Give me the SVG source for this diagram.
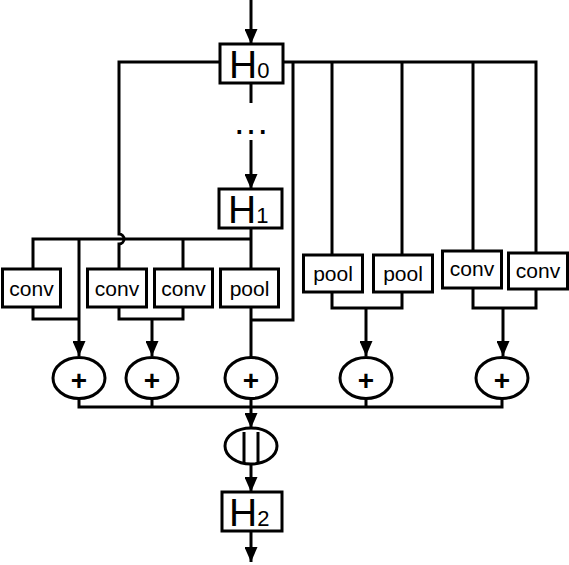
<svg xmlns="http://www.w3.org/2000/svg" width="569" height="565" viewBox="0 0 569 565">
  <style>
    .box { fill: #fff; stroke: #000; stroke-width: 3; }
    .op { fill: #fff; stroke: #000; stroke-width: 3; }
    .wire { fill: none; stroke: #000; stroke-width: 3; stroke-linejoin: miter; }
    .arrow { marker-end: url(#head); }
    .lbl { font-family: "Liberation Sans", Arial, sans-serif; font-size: 21px; text-anchor: middle; fill: #000; }
    .hname { font-family: "Liberation Sans", Arial, sans-serif; font-size: 39px; fill: #000; }
    .plus { font-family: "Liberation Sans", Arial, sans-serif; font-size: 28px; font-weight: bold; text-anchor: middle; fill: #000; }
  </style>
  <defs>
    <marker id="head" markerUnits="userSpaceOnUse" markerWidth="16" markerHeight="13" refX="15" refY="6.5" orient="auto">
      <path d="M0,0 L15,6.5 L0,13 z" fill="#000"/>
    </marker>
  </defs>
  <rect width="569" height="565" fill="#fff"/>

  <g id="connectors">
    <!-- input into H0 -->
    <line class="wire arrow" x1="251" y1="0" x2="251" y2="44"/>
    <line class="wire" x1="251" y1="83" x2="251" y2="103"/>
    <line class="wire arrow" x1="251" y1="140" x2="251" y2="189"/>
    <!-- H0 skip to the left branch, hopping over the H1 bus -->
    <path class="wire" d="M220,62 H119 V234 A5,5 0 0 1 119,244 V269"/>
    <!-- H0 fan-out to the right -->
    <path class="wire" d="M283,62 H536 V253"/>
    <path class="wire" d="M293,62 V320 H251"/>
    <line class="wire" x1="332" y1="62" x2="332" y2="255"/>
    <line class="wire" x1="402" y1="62" x2="402" y2="255"/>
    <line class="wire" x1="473" y1="62" x2="473" y2="251"/>
    <!-- H1 bus -->
    <line class="wire" x1="251" y1="228" x2="251" y2="269"/>
    <path class="wire" d="M33,269 V239 H251"/>
    <line class="wire" x1="183" y1="239" x2="183" y2="269"/>
    <line class="wire arrow" x1="79" y1="239" x2="79" y2="356"/>
    <!-- op outputs merged into the sums -->
    <path class="wire" d="M33,307 V319 H79"/>
    <path class="wire" d="M119,307 V319 H183 V307"/>
    <line class="wire arrow" x1="152" y1="319" x2="152" y2="356"/>
    <line class="wire" x1="251" y1="307" x2="251" y2="358"/>
    <path class="wire" d="M332,292 V308 H402 V292"/>
    <line class="wire arrow" x1="366" y1="308" x2="366" y2="356"/>
    <path class="wire" d="M473,288 V308 H536 V289"/>
    <line class="wire arrow" x1="503" y1="308" x2="503" y2="356"/>
    <!-- sums to concatenation -->
    <path class="wire" d="M79,399 V407 H502 V399"/>
    <line class="wire" x1="152" y1="399" x2="152" y2="407"/>
    <line class="wire" x1="366" y1="399" x2="366" y2="407"/>
    <line class="wire arrow" x1="251" y1="399" x2="251" y2="428"/>
    <line class="wire arrow" x1="251" y1="464" x2="251" y2="492"/>
    <line class="wire arrow" x1="251" y1="531" x2="251" y2="562"/>
  </g>

  <text id="ellipsis" x="251" y="134" class="lbl" style="font-size:37px">…</text>

  <g id="H0">
    <rect class="box" x="220" y="44" width="63" height="39"/>
    <text class="hname" x="229" y="78">H<tspan style="font-size:22px">0</tspan></text>
  </g>
  <g id="H1">
    <rect class="box" x="219" y="189" width="63" height="39"/>
    <text class="hname" x="228" y="223">H<tspan style="font-size:22px">1</tspan></text>
  </g>
  <g id="H2">
    <rect class="box" x="222" y="492" width="60" height="39"/>
    <text class="hname" x="229" y="526">H<tspan style="font-size:22px">2</tspan></text>
  </g>

  <g id="conv1"><rect class="box" x="2.5" y="269" width="58" height="38"/><text class="lbl" x="31.5" y="296">conv</text></g>
  <g id="conv2"><rect class="box" x="87.5" y="269" width="59" height="38"/><text class="lbl" x="117" y="296">conv</text></g>
  <g id="conv3"><rect class="box" x="154.5" y="269" width="58" height="38"/><text class="lbl" x="183.5" y="296">conv</text></g>
  <g id="pool3"><rect class="box" x="220.5" y="269" width="58" height="38"/><text class="lbl" x="249.5" y="296">pool</text></g>
  <g id="pool4"><rect class="box" x="303.5" y="255" width="59" height="37"/><text class="lbl" x="333" y="281">pool</text></g>
  <g id="pool5"><rect class="box" x="373.5" y="255" width="59" height="37"/><text class="lbl" x="403" y="281">pool</text></g>
  <g id="conv6"><rect class="box" x="442.5" y="251" width="59" height="37"/><text class="lbl" x="472" y="276">conv</text></g>
  <g id="conv7"><rect class="box" x="508.5" y="253" width="59" height="36"/><text class="lbl" x="538" y="278">conv</text></g>

  <g id="sum1"><ellipse class="op" cx="79" cy="378" rx="26" ry="20.5"/><text class="plus" x="79" y="390">+</text></g>
  <g id="sum2"><ellipse class="op" cx="152" cy="378" rx="26" ry="20.5"/><text class="plus" x="152" y="390">+</text></g>
  <g id="sum3"><ellipse class="op" cx="251" cy="378" rx="26" ry="20.5"/><text class="plus" x="251" y="390">+</text></g>
  <g id="sum4"><ellipse class="op" cx="366" cy="378" rx="26" ry="20.5"/><text class="plus" x="366" y="390">+</text></g>
  <g id="sum5"><ellipse class="op" cx="502" cy="378" rx="26" ry="20.5"/><text class="plus" x="502" y="390">+</text></g>

  <g id="concat">
    <ellipse class="op" cx="251" cy="446" rx="26" ry="18"/>
    <line class="wire" x1="244" y1="432" x2="244" y2="463"/>
    <line class="wire" x1="258" y1="432" x2="258" y2="463"/>
  </g>
</svg>
